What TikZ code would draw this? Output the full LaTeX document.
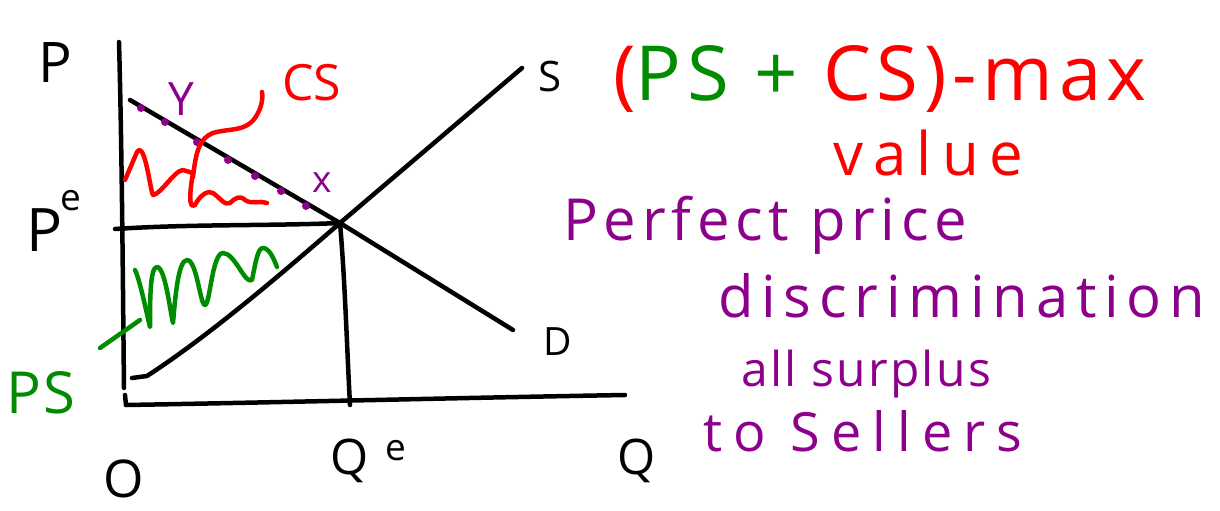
\documentclass[tikz,border=0pt]{standalone}
\usepackage{fontspec}
\setmainfont{Open Sans}
\newfontfamily\hand{Open Sans}
\definecolor{hgreen}{RGB}{0,140,0}
\definecolor{hred}{RGB}{255,0,0}
\definecolor{hpurple}{RGB}{140,0,140}
\newlength\natw
% #1 target width, #2 font size, #3 glyph count, #4 text
\newcommand{\spreadln}[4]{\begingroup\hand\fontsize{#2}{#2}\selectfont
  \settowidth{\natw}{#4}%
  \pgfmathsetmacro\lsamt{((#1)-\natw/1pt)/((#3)*(#2))*100}%
  \edef\tmpfeat{\noexpand\addfontfeature{LetterSpace=\lsamt}}\tmpfeat #4\endgroup}
\begin{document}
\begin{tikzpicture}[x=1pt,y=-1pt,
  ink/.style={line width=4.5pt,line cap=round,line join=round,draw=black},
  redink/.style={ink,draw=hred},
  greenink/.style={ink,draw=hgreen},
  lbl/.style={inner sep=0pt,anchor=base west,font=\hand},
  dot/.style={circle,fill=hpurple,inner sep=0pt,minimum size=8pt}]
\useasboundingbox (0,0) rectangle (1220,511);
\fill[white] (0,0) rectangle (1220,511);
% coordinates
\coordinate (ytop) at (119,42);
\coordinate (ybreak) at (124,388);
\coordinate (orig) at (126,405);
\coordinate (xend) at (625,395);
\coordinate (pe0) at (115,229);
\coordinate (eq) at (340,223);
\coordinate (dtop) at (130,100);
\coordinate (dend) at (513,330);
\coordinate (sbot) at (132,378);
\coordinate (send) at (522,68);
\coordinate (qe) at (350,405);
% axes
\draw[ink] (ytop) .. controls (122,150) and (123,300) .. (ybreak);
\draw[ink] (125,395) -- (orig);
\draw[ink] (orig) .. controls (300,402) and (450,398) .. (xend);
% lines
\draw[ink] (pe0) .. controls (190,224) and (270,226) .. (eq);
\draw[ink] (dtop) -- (eq) -- (dend);
\draw[ink] (sbot) -- (147,376) .. controls (210,335) and (280,275) .. (eq) -- (send);
\draw[ink] (eq) .. controls (345,280) and (347,350) .. (qe);
% purple dots on demand
\foreach \p [count=\i] in {(141,108),(165,122),(197,142),(228,160),(255,176),(281,191),(306,206)}
  \node[dot] (d\i) at \p {};
% CS squiggle
\draw[redink] (125,180) -- (137,152) .. controls (145,140) and (150,190) .. (153,195)
  .. controls (160,195) and (175,170) .. (183,170) -- (193,173)
  .. controls (190,190) and (188,210) .. (195,205) .. controls (200,195) and (208,190) .. (213,193)
  .. controls (220,198) and (225,206) .. (230,203) .. controls (235,198) and (240,195) .. (245,200)
  .. controls (252,205) and (260,200) .. (267,203);
\draw[redink] (193,177) .. controls (196,150) and (200,138) .. (213,133)
  .. controls (230,128) and (245,132) .. (255,118) .. controls (262,108) and (263,98) .. (262,92);
% PS squiggle
\draw[greenink] (135,270) .. controls (140,280) and (147,315) .. (150,327)
  .. controls (150,300) and (150,267) .. (157,267) .. controls (165,267) and (170,310) .. (173,323)
  .. controls (175,300) and (178,260) .. (187,260) .. controls (197,260) and (200,305) .. (205,305)
  .. controls (210,305) and (212,253) .. (223,253) .. controls (235,253) and (245,285) .. (252,280)
  .. controls (256,260) and (258,248) .. (263,248) .. controls (270,248) and (275,262) .. (277,267);
\draw[greenink] (100,348) -- (140,320);
% axis labels
\node[lbl,font=\hand\fontsize{56}{60}\selectfont] (lP) at (38,82) {P};
\node[lbl,font=\hand\fontsize{60}{64}\selectfont] (lPe) at (26,251) {P};
\node[lbl,font=\hand\fontsize{37}{40}\selectfont] (lPes) at (60,210) {e};
\node[lbl,font=\hand\fontsize{42}{46}\selectfont] (lS) at (538,92) {S};
\node[lbl,font=\hand\fontsize{39}{42}\selectfont] (lD) at (543,355) {D};
\node[lbl,font=\hand\fontsize{49}{52}\selectfont] (lQe) at (330,474) {Q};
\node[lbl,font=\hand\fontsize{37}{40}\selectfont] (lQes) at (385,460) {e};
\node[lbl,font=\hand\fontsize{49}{52}\selectfont] (lQ) at (617,474) {Q};
\node[lbl,font=\hand\fontsize{52}{56}\selectfont] (lO) at (103,497) {O};
\node[lbl,text=hgreen] (lPS) at (6,413) {\spreadln{72}{58}{2}{PS}};
\node[lbl,text=hred] (lCS) at (282,100) {\spreadln{58}{50}{2}{CS}};
\node[lbl,text=hpurple,font=\hand\fontsize{46}{50}\selectfont] (lY) at (168,115) {Y};
\node[lbl,text=hpurple,font=\hand\fontsize{37}{40}\selectfont] (lX) at (312,192) {x};
% right text
\node[lbl] (t1) at (613,100)
  {\spreadln{545}{76}{11}{\textcolor{hred}{(}\textcolor{hgreen}{PS + }\textcolor{hred}{CS)-max}}};
\node[lbl,text=hred] (t2) at (833,175) {\spreadln{200}{60}{5}{value}};
\node[lbl,text=hpurple] (t3) at (563,240) {\spreadln{410}{58}{12}{Perfect price}};
\node[lbl,text=hpurple] (t4) at (718,317) {\spreadln{495}{58}{14}{discrimination}};
\node[lbl,text=hpurple] (t5) at (741,386) {\spreadln{252}{48}{10}{all surplus}};
\node[lbl,text=hpurple] (t6) at (703,451) {\spreadln{330}{54}{9}{to Sellers}};
\end{tikzpicture}
\end{document}
